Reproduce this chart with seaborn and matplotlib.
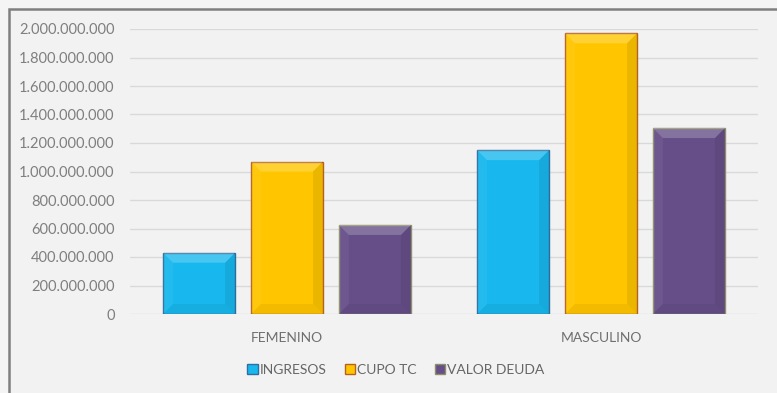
import matplotlib
matplotlib.use("Agg")
import matplotlib.pyplot as plt
from matplotlib.patches import Rectangle, Polygon
from matplotlib.ticker import FuncFormatter, MultipleLocator
import seaborn as sns
import pandas as pd

# Datos por género
generos = ["FEMENINO", "MASCULINO"]
series = ["INGRESOS", "CUPO TC", "VALOR DEUDA"]
ingresos = [430_000_000, 1_150_000_000]
cupo_tc = [1_070_000_000, 1_970_000_000]
valor_deuda = [625_000_000, 1_305_000_000]

colores = ["#18b8ee", "#ffc600", "#664f88"]
bordes = ["#2f6e9e", "#b5621f", "#8c8f6c"]

df = pd.DataFrame({
    "genero": generos * 3,
    "serie": [series[0]] * 2 + [series[1]] * 2 + [series[2]] * 2,
    "valor": ingresos + cupo_tc + valor_deuda,
})

sns.set_style("white")
plt.rcParams["font.family"] = ["Lato", "DejaVu Sans"]

W, H = 777, 393
fig = plt.figure(figsize=(W / 100, H / 100), dpi=100, facecolor="#f4f4f4")

# Marco del gráfico (detrás de los ejes)
fig.patches.append(Rectangle((9 / W, -0.1), 1.2, 1.1 - 9 / H, transform=fig.transFigure,
                             facecolor="#f2f2f2", edgecolor="#7f7f7f", linewidth=1.8, zorder=-5))

ax = fig.add_axes([130 / W, 1 - 314 / H, 628 / W, 285 / H])
ax.set_facecolor("none")

sns.barplot(data=df, x="genero", y="valor", hue="serie", order=generos, hue_order=series,
            palette=colores, saturation=1, width=0.84, gap=0.18, ax=ax, legend=False,
            zorder=3)

for cont, ec in zip(ax.containers, bordes):
    for p in cont:
        p.set_edgecolor(ec)
        p.set_linewidth(1.0)

ax.set_ylim(0, 2_000_000_000)
ax.yaxis.set_major_locator(MultipleLocator(200_000_000))
ax.yaxis.set_major_formatter(FuncFormatter(lambda v, _: f"{int(v):,}".replace(",", ".")))
ax.grid(axis="y", color="#d9d9d9", linewidth=1.0, zorder=0)
ax.grid(axis="x", visible=False)
for s in ax.spines.values():
    s.set_visible(False)
ax.tick_params(axis="y", length=0, pad=11, labelsize=10.5, labelcolor="#7f7f7f")
ax.tick_params(axis="x", length=0, pad=13, labelsize=10, labelcolor="#6f6f6f")
ax.set_xlabel("")
ax.set_ylabel("")

# Relieve biselado sobre cada barra
fig.canvas.draw()
inv = ax.transData.inverted()
bev = 10  # píxeles
for cont in ax.containers:
    for p in cont:
        x0, y0 = p.get_x(), p.get_y()
        x1, y1 = x0 + p.get_width(), y0 + p.get_height()
        (px0, py0), (px1, py1) = ax.transData.transform([(x0, y0), (x1, y1)])
        b = min(bev, (px1 - px0) / 2, (py1 - py0) / 2)
        (ix0, iy0), (ix1, iy1) = inv.transform([(px0 + b, py0 + b), (px1 - b, py1 - b)])
        caras = [
            ([(x0, y1), (x1, y1), (ix1, iy1), (ix0, iy1)], "white", 0.20),
            ([(x0, y0), (ix0, iy0), (ix0, iy1), (x0, y1)], "white", 0.05),
            ([(x1, y0), (x1, y1), (ix1, iy1), (ix1, iy0)], "black", 0.08),
            ([(x0, y0), (x1, y0), (ix1, iy0), (ix0, iy0)], "black", 0.05),
        ]
        for pts, c, a in caras:
            ax.add_patch(Polygon(pts, closed=True, facecolor=c, alpha=a,
                                 edgecolor="none", zorder=4))

handles = [Rectangle((0, 0), 1, 1, facecolor=c, edgecolor=e, linewidth=1.0)
           for c, e in zip(colores, bordes)]
fig.legend(handles, series, loc="center", bbox_to_anchor=(396 / W, 1 - 370 / H),
           ncol=3, frameon=False, fontsize=10, labelcolor="#666666",
           handlelength=0.75, handleheight=0.75, handletextpad=0.15,
           columnspacing=1.3)

fig.savefig("out.png", dpi=100, facecolor=fig.get_facecolor())
